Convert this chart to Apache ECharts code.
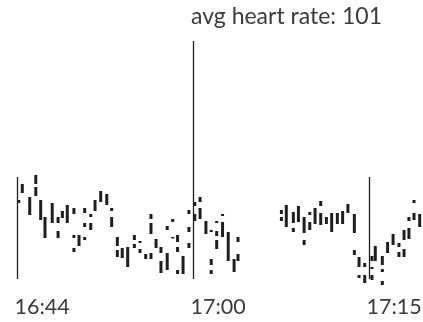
<!DOCTYPE html>
<html>
<head>
<meta charset="utf-8">
<title>Heart rate</title>
<script src="https://cdn.jsdelivr.net/npm/echarts@6/dist/echarts.min.js"></script>
<style>
  html, body { margin: 0; padding: 0; background: #fff; }
  #chart { width: 423px; height: 322px; }
</style>
</head>
<body>
<div id="chart"></div>
<script>
// Heart-rate readings: [seconds after 16:44:00, low bpm, high bpm]
const hrRanges = [
  [69, 112, 113.5], [87, 117, 121.5], [125, 106, 115],
  [156, 121.5, 126], [156, 115.5, 120], [181, 103.5, 113.5],
  [203, 94.5, 105], [240, 102, 112], [270, 102, 105], [270, 94.5, 98],
  [292, 104.5, 108], [317, 102, 111],
  [351, 106.5, 109.5], [351, 94.5, 96], [351, 87.5, 89.5], [377, 90.5, 96],
  [406, 107, 109.5], [406, 100, 102], [406, 93.5, 95],
  [437, 105, 106.5], [437, 98.5, 102], [459, 108, 113.5],
  [488, 112.5, 118], [519, 111, 116.5], [544, 108, 109.5], [544, 100, 105],
  [573, 90.5, 95], [573, 85, 88.5], [598, 84.5, 89.5], [626, 80, 90],
  [660, 93.5, 96], [660, 89.5, 91.5], [689, 92, 93], [689, 87, 89],
  [718, 84, 86.5], [745, 104, 106.5], [745, 96.5, 102], [745, 84, 87],
  [771, 89.5, 94], [796, 87, 90], [796, 77, 83],
  [828, 98.5, 100.5], [828, 78.5, 87], [856, 102.5, 104], [856, 94.5, 95],
  [881, 92.5, 96], [881, 87.5, 90], [881, 76.5, 78.5], [909, 76.5, 85.5],
  [939, 106.5, 108.5], [939, 97.5, 100], [939, 89.5, 92],
  [969, 110.5, 112.5], [969, 103, 106.5], [996, 112.5, 115], [996, 104, 109.5],
  [1026, 96.5, 103], [1053, 97.5, 98.5], [1053, 81, 84], [1053, 76.5, 78.5],
  [1081, 102, 103], [1081, 95.5, 98], [1081, 89, 93.5],
  [1111, 105.5, 106.5], [1111, 95, 102.5], [1140, 83, 97.5],
  [1170, 77.5, 84], [1190, 92.5, 95], [1190, 83, 86.5],
  // second part, after the pause
  [1412, 106.5, 108.5], [1412, 103, 105], [1437, 100, 111],
  [1473, 102, 107.5], [1473, 97.5, 99.5], [1499, 102.5, 110.5],
  [1528, 97, 105], [1528, 91, 93.5], [1557, 106, 107.5], [1557, 98.5, 102.5],
  [1584, 101.5, 109.5], [1613, 110.5, 113], [1613, 101, 107],
  [1642, 101.5, 105], [1669, 97.5, 107], [1698, 101.5, 107],
  [1725, 101.5, 108], [1752, 107, 111.5], [1785, 97, 106.5], [1785, 86, 88.5],
  [1809, 80, 85], [1809, 74.5, 76], [1838, 80, 82], [1838, 72, 76],
  [1875, 83, 85.5], [1875, 79, 80], [1875, 73.5, 76], [1892, 83, 90.5],
  [1928, 81, 85.5], [1928, 77.5, 79], [1928, 71, 73],
  [1955, 87, 92.5], [1983, 91, 96.5], [2013, 90, 92], [2013, 85, 87.5],
  [2039, 93.5, 98.5], [2039, 85, 89], [2064, 103, 105], [2064, 94, 99.5],
  [2090, 112, 113.5], [2090, 103.5, 107], [2119, 100, 106.5]
];

// Time markers (seconds after 16:44:00), their labels and how high they reach (bpm)
const markerTimes = [58, 960, 1860];
const markerLabels = ['16:44', '17:00', '17:15'];
const markerTops = [125, 193, 125];
const markerBase = 74;

const avgHeartRate = 101;

const INK = '#1e1e1e';
const TEXT = '#3a3a3a';
const FONT = 'Lato, "Noto Sans", sans-serif';

const markerData = markerTimes.map((t, i) => [t, markerBase, markerTops[i]]);

const chart = echarts.init(document.getElementById('chart'), null, { renderer: 'canvas' });

chart.setOption({
  animation: false,
  backgroundColor: '#ffffff',
  title: {
    text: 'avg heart rate: ' + avgHeartRate,
    left: 191,
    top: 5,
    padding: 0,
    textStyle: { fontFamily: FONT, fontSize: 23, fontWeight: 'normal', color: TEXT }
  },
  grid: { left: 0, right: 0, top: 39, bottom: 43 },
  xAxis: { type: 'value', min: -27, max: 2136, show: false },
  yAxis: { type: 'value', min: 74, max: 194, show: false },
  series: [
    {
      type: 'custom',
      name: 'markers',
      data: markerData,
      encode: { x: 0, y: [1, 2] },
      renderItem(params, api) {
        const t = api.value(0);
        const bottom = api.coord([t, api.value(1)]);
        const top = api.coord([t, api.value(2)]);
        const x = Math.round(bottom[0]) + 0.5;
        return {
          type: 'group',
          children: [
            {
              type: 'line',
              shape: { x1: x, y1: top[1], x2: x, y2: bottom[1] },
              style: { stroke: INK, lineWidth: 1.3 }
            },
            {
              type: 'text',
              x: x - 3,
              y: bottom[1] + 28,
              style: {
                text: markerLabels[params.dataIndex],
                fontFamily: FONT,
                fontSize: 21.5,
                fill: TEXT,
                align: 'left',
                verticalAlign: 'middle'
              }
            }
          ]
        };
      }
    },
    {
      type: 'custom',
      name: 'heart rate',
      data: hrRanges,
      encode: { x: 0, y: [1, 2] },
      renderItem(params, api) {
        const t = api.value(0);
        const hi = api.coord([t, api.value(2)]);
        const lo = api.coord([t, api.value(1)]);
        return {
          type: 'rect',
          shape: {
            x: hi[0] - 1.5,
            y: hi[1],
            width: 3,
            height: Math.max(lo[1] - hi[1], 1.5)
          },
          style: { fill: INK }
        };
      }
    }
  ]
});
</script>
</body>
</html>
